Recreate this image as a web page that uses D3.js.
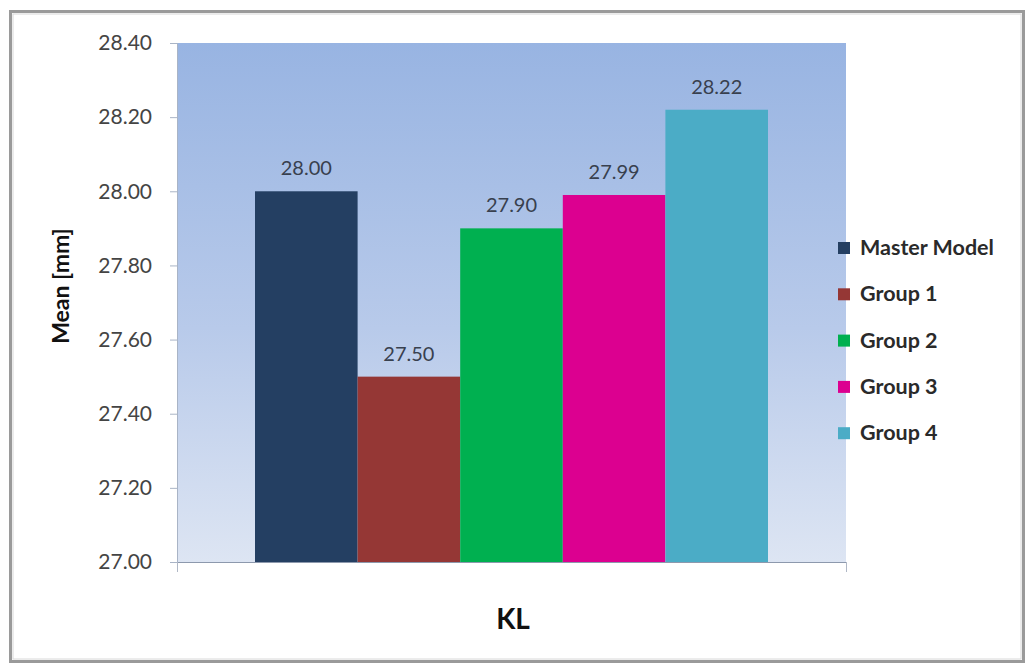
<!DOCTYPE html>
<html>
<head>
<meta charset="utf-8">
<script src="https://cdn.jsdelivr.net/npm/d3@7"></script>
<style>
  html, body { margin: 0; padding: 0; background: #fff; }
  svg { display: block; }
  text { font-family: Lato, "Open Sans", sans-serif; }
</style>
</head>
<body>
<svg id="chart" width="1028" height="666"></svg>
<script>
// Mean KL measurement per group
const categories = ["Master Model", "Group 1", "Group 2", "Group 3", "Group 4"];
const values = [28.00, 27.50, 27.90, 27.99, 28.22];
const colors = ["#243f62", "#953735", "#00b050", "#dc0090", "#4bacc6"];
const yTicks = [27.00, 27.20, 27.40, 27.60, 27.80, 28.00, 28.20, 28.40];
const xLabel = "KL";
const yLabel = "Mean [mm]";

const svg = d3.select("#chart");

// outer frame
svg.append("rect")
  .attr("x", 10.5).attr("y", 11.5)
  .attr("width", 1013).attr("height", 650)
  .attr("fill", "#fff")
  .attr("stroke", "#9a9a9a")
  .attr("stroke-width", 3);
svg.append("rect")
  .attr("x", 13).attr("y", 14)
  .attr("width", 1008).attr("height", 645)
  .attr("fill", "none")
  .attr("stroke", "#d8d8d8")
  .attr("stroke-width", 1);

const plot = { left: 177, right: 846, top: 43, bottom: 562 };

const y = d3.scaleLinear()
  .domain([27.00, 28.40])
  .range([plot.bottom, plot.top]);

const x = d3.scaleBand()
  .domain(categories)
  .range([plot.left + 78, plot.right - 78])
  .padding(0);

// plot area background gradient
const defs = svg.append("defs");
const grad = defs.append("linearGradient")
  .attr("id", "plotBg")
  .attr("x1", 0).attr("y1", 0).attr("x2", 0).attr("y2", 1);
grad.append("stop").attr("offset", "0%").attr("stop-color", "#98b4e2");
grad.append("stop").attr("offset", "55%").attr("stop-color", "#b8caea");
grad.append("stop").attr("offset", "100%").attr("stop-color", "#dde5f3");

svg.append("rect")
  .attr("x", plot.left).attr("y", plot.top)
  .attr("width", plot.right - plot.left)
  .attr("height", plot.bottom - plot.top)
  .attr("fill", "url(#plotBg)");

// bars
svg.append("g").selectAll("rect")
  .data(categories)
  .join("rect")
  .attr("x", d => x(d))
  .attr("y", (d, i) => y(values[i]))
  .attr("width", x.bandwidth())
  .attr("height", (d, i) => y(27.00) - y(values[i]))
  .attr("fill", (d, i) => colors[i]);

// value labels
svg.append("g").selectAll("text")
  .data(categories)
  .join("text")
  .attr("x", d => x(d) + x.bandwidth() / 2)
  .attr("y", (d, i) => y(values[i]) - 16)
  .attr("text-anchor", "middle")
  .attr("font-size", 20)
  .attr("fill", "#38404e")
  .text((d, i) => d3.format(".2f")(values[i]));

// y axis
const yAxis = svg.append("g")
  .attr("transform", `translate(${plot.left},0)`)
  .call(d3.axisLeft(y).tickValues(yTicks).tickFormat(d3.format(".2f")).tickSize(7).tickPadding(18));
yAxis.select(".domain").attr("stroke", "#a9b4c6");
yAxis.selectAll(".tick line").attr("stroke", "#a9b4c6");
yAxis.selectAll(".tick text")
  .attr("font-size", 21)
  .attr("fill", "#444")
  .attr("font-family", "Lato, 'Open Sans', sans-serif");

// x axis line with end ticks
const xAxis = svg.append("g")
  .attr("transform", `translate(0,${plot.bottom})`)
  .call(d3.axisBottom(d3.scaleLinear().domain([0, 1]).range([plot.left, plot.right]))
    .tickValues([0, 1]).tickFormat("").tickSize(10).tickSizeOuter(0));
xAxis.select(".domain").attr("stroke", "#8d99ad");
xAxis.selectAll(".tick line").attr("stroke", "#b0b8c6");

// axis titles
svg.append("text")
  .attr("x", 513)
  .attr("y", 629)
  .attr("text-anchor", "middle")
  .attr("font-size", 28)
  .attr("font-weight", "bold")
  .attr("fill", "#111")
  .text(xLabel);

svg.append("text")
  .attr("transform", "translate(69,286) rotate(-90)")
  .attr("text-anchor", "middle")
  .attr("font-size", 23)
  .attr("font-weight", "bold")
  .attr("fill", "#111")
  .text(yLabel);

// legend
const legend = svg.append("g").attr("transform", "translate(838,248)");
const rows = legend.selectAll("g")
  .data(categories)
  .join("g")
  .attr("transform", (d, i) => `translate(0,${i * 46.3})`);
rows.append("rect")
  .attr("x", 0).attr("y", -6)
  .attr("width", 12).attr("height", 12)
  .attr("fill", (d, i) => colors[i]);
rows.append("text")
  .attr("x", 22).attr("y", 7)
  .attr("font-size", 21.5)
  .attr("font-weight", "bold")
  .attr("fill", "#2a2a2a")
  .text(d => d);
</script>
</body>
</html>
